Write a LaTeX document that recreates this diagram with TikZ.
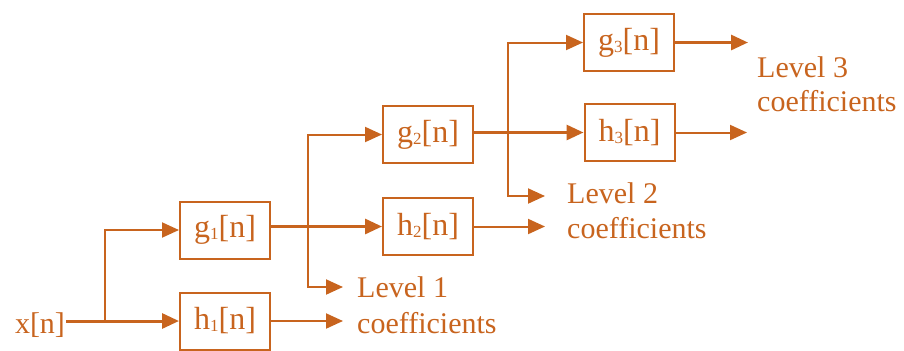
\documentclass[tikz,border=0pt]{standalone}
\usepackage{fontspec}
\setmainfont{Liberation Serif}
\usetikzlibrary{arrows.meta}
\definecolor{wav}{RGB}{200,100,30}
\newcommand{\mysub}[1]{\raisebox{-2bp}{\fontsize{17bp}{17bp}\selectfont #1}}
\begin{document}
\begin{tikzpicture}[x=1bp,y=-1bp,
  every node/.style={text=wav,font=\fontsize{30bp}{36bp}\selectfont},
  filt/.style={draw=wav,line width=2bp,minimum width=90bp,minimum height=57bp,inner sep=0pt,font=\fontsize{32bp}{36bp}\selectfont},
  conn/.style={draw=wav,line width=2bp,line cap=rect,-{Triangle[length=17bp,width=15bp]}},
  thickconn/.style={conn,line width=3bp},
  lbl/.style={anchor=base west,inner sep=0pt}]
\useasboundingbox (0,0) rectangle (904,350);
% filters
\node[filt] (g1) at (225,230) {g\mysub{1}[n]};
\node[filt] (h1) at (225,321) {h\mysub{1}[n]};
\node[filt] (g2) at (428,134.5) {g\mysub{2}[n]};
\node[filt] (h2) at (428,226.5) {h\mysub{2}[n]};
\node[filt] (g3) at (629,42.5) {g\mysub{3}[n]};
\node[filt] (h3) at (629.5,132.5) {h\mysub{3}[n]};
% input
\node[inner sep=2bp] (xn) at (40,325) {x[n]};
% junctions and free ends
\coordinate (b0) at (105,321);
\coordinate (b1) at (308,287);
\coordinate (b2) at (508,196);
\coordinate (l1) at (343,287);
\coordinate (l2) at (545,196);
\coordinate (o1) at (343,321);
\coordinate (o2) at (545,226.5);
\coordinate (o3a) at (748,42.5);
\coordinate (o3b) at (747,132.5);
% connectors
\draw[thickconn] (xn.east |- h1.west) -- (h1.west);
\draw[conn] (b0) |- (g1.west);
\draw[thickconn] (g1.east |- h2.west) -- (h2.west);
\draw[conn] (b1) |- (g2.west);
\draw[conn] (b1) -- (l1);
\draw[conn] (h1.east) -- (o1);
\draw[thickconn] (g2.east |- h3.west) -- (h3.west);
\draw[conn] (b2) |- (g3.west);
\draw[conn] (b2) -- (l2);
\draw[conn] (h2.east) -- (o2);
\draw[thickconn] (g3.east) -- (o3a);
\draw[conn] (h3.east) -- (o3b);
% labels
\node[lbl] (t1a) at (357,297) {Level 1};
\node[lbl] (t1b) at (357,333) {coefficients};
\node[lbl] (t2a) at (567,203) {Level 2};
\node[lbl] (t2b) at (567,238) {coefficients};
\node[lbl] (t3a) at (757,77) {Level 3};
\node[lbl] (t3b) at (757,111) {coefficients};
\end{tikzpicture}
\end{document}
